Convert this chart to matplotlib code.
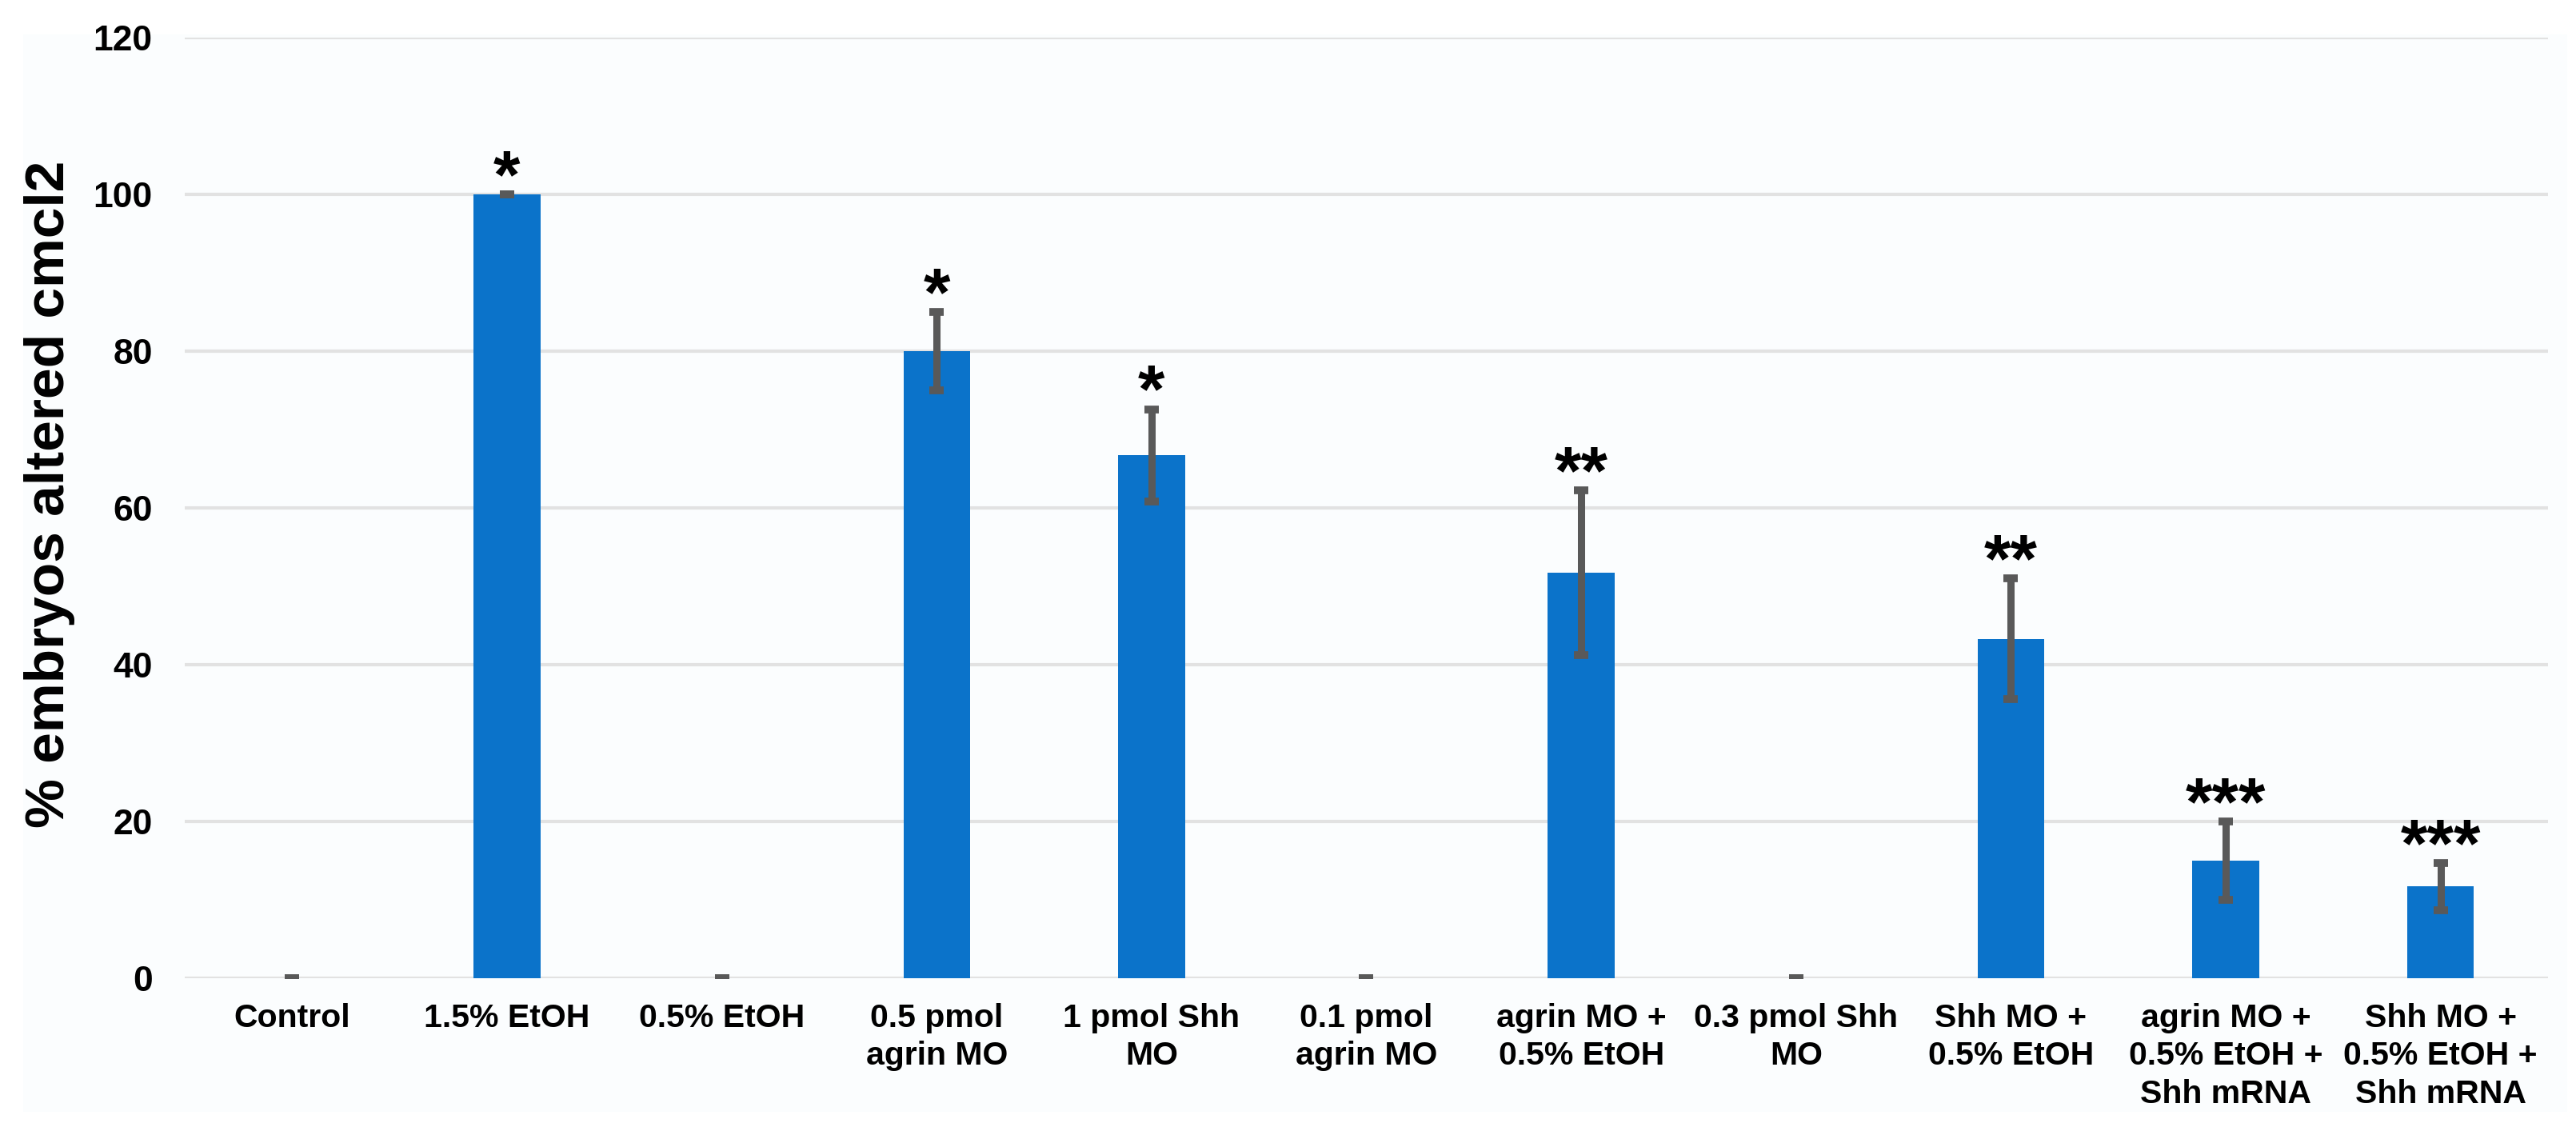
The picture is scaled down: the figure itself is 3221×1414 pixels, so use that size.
import matplotlib
matplotlib.use("Agg")
import matplotlib.pyplot as plt
from matplotlib.patches import Rectangle

# donnees
categories = ["Control", "1.5% EtOH", "0.5% EtOH", "0.5 pmol\nagrin MO",
              "1 pmol Shh\nMO", "0.1 pmol\nagrin MO", "agrin MO +\n0.5% EtOH",
              "0.3 pmol Shh\nMO", "Shh MO +\n0.5% EtOH",
              "agrin MO +\n0.5% EtOH +\nShh mRNA",
              "Shh MO +\n0.5% EtOH +\nShh mRNA"]
valeurs = [0, 100, 0, 80, 66.7, 0, 51.7, 0, 43.3, 15, 11.7]
erreurs = [0, 0, 0, 5.0, 5.9, 0, 10.5, 0, 7.7, 5.0, 3.0]
etoiles = ["", "*", "", "*", "*", "", "**", "", "**", "***", "***"]
yticks = [0, 20, 40, 60, 80, 100, 120]

bleu = "#0b73ca"
gris = "#595959"
fond = "#fbfdfe"

plt.rcParams["font.family"] = ["Liberation Sans", "DejaVu Sans"]
plt.rcParams["font.weight"] = "bold"

W, H = 3221, 1414
fig = plt.figure(figsize=(W / 100, H / 100), dpi=100, facecolor="white")
# leger fond teinte derriere le graphique
fig.patches.append(Rectangle((29 / W, 1 - 1390 / H), (W - 40) / W, (1390 - 43) / H,
                             transform=fig.transFigure, facecolor=fond,
                             edgecolor="none", zorder=-5))

ax = fig.add_axes([231 / W, 1 - 1223 / H, (3186 - 231) / W, (1223 - 47) / H])
ax.set_facecolor(fond)

x = list(range(len(categories)))
ax.bar(x, valeurs, width=0.31, color=bleu, zorder=2)
ax.errorbar(x, valeurs, yerr=erreurs, fmt="none", ecolor=gris,
            elinewidth=6.5, capsize=6.5, capthick=7, zorder=3)

# etoiles de significativite
for i, s in enumerate(etoiles):
    if s:
        ax.annotate(s, (i, valeurs[i] + erreurs[i]), xytext=(0, -3),
                    textcoords="offset points", ha="center", va="baseline",
                    fontsize=62, fontweight="bold", zorder=4)

ax.set_xlim(-0.5, len(categories) - 0.5)
ax.set_ylim(0, 120)
ax.set_yticks(yticks)
ax.set_xticks(x)
ax.set_xticklabels(categories, fontsize=29.5, fontweight="bold", linespacing=1.32)
ax.tick_params(axis="x", length=0, pad=22)
ax.tick_params(axis="y", length=0, pad=29, labelsize=32)
for lab in ax.get_yticklabels():
    lab.set_fontweight("bold")

ax.grid(axis="y", color="#e2e2e2", linewidth=3, zorder=0)
ax.set_axisbelow(True)
for sp in ax.spines.values():
    sp.set_visible(False)

fig.text(62 / W, 1 - 618 / H, "% embryos altered cmcl2", rotation=90,
         ha="center", va="center", fontsize=50, fontweight="bold")

fig.savefig("out.png", dpi=100, facecolor="white")
